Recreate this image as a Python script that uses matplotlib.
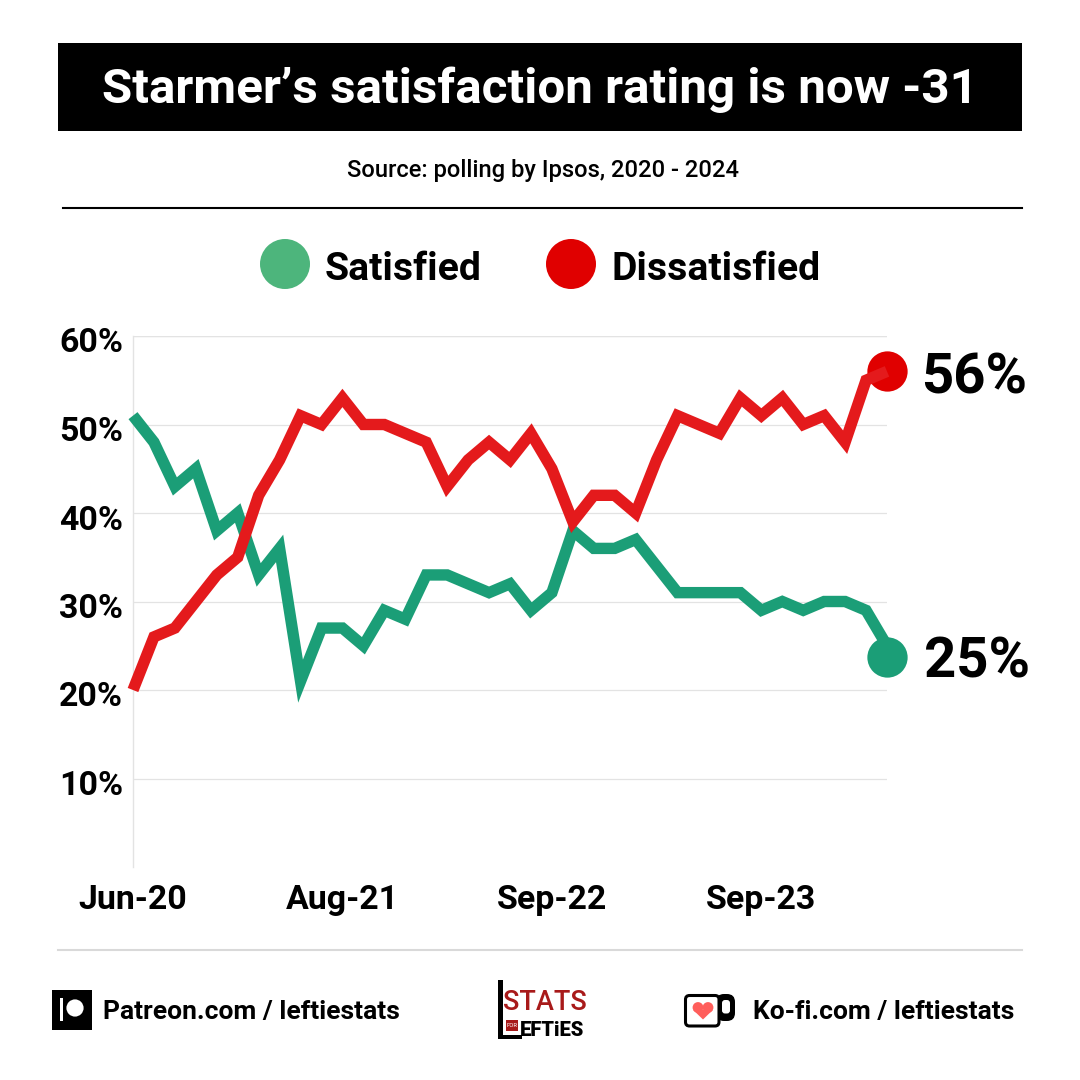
import matplotlib
matplotlib.use('Agg')
import matplotlib.pyplot as plt
from matplotlib.patches import Rectangle, Circle, FancyBboxPatch, Polygon
from matplotlib.transforms import ScaledTranslation

plt.rcParams['font.family'] = ['Roboto', 'DejaVu Sans']

# values, Ipsos polling
poll_index = list(range(37))
satisfied = [51, 48, 43, 45, 38, 40, 33, 36, 21, 27, 27, 25, 29, 28, 33, 33, 32, 31, 32,
             29, 31, 38, 36, 36, 37, 34, 31, 31, 31, 31, 29, 30, 29, 30, 30, 29, 25]
dissatisfied = [20, 26, 27, 30, 33, 35, 42, 46, 51, 50, 53, 50, 50, 49, 48, 43, 46, 48, 46,
                49, 45, 39, 42, 42, 40, 46, 51, 50, 49, 53, 51, 53, 50, 51, 48, 55, 56]
y_ticks = [10, 20, 30, 40, 50, 60]
y_labels = ['10%', '20%', '30%', '40%', '50%', '60%']
x_ticks = [0, 10, 20, 30]
x_labels = ['Jun-20', 'Aug-21', 'Sep-22', 'Sep-23']
end_sat_dot = 23.7
end_dis_dot = 56

GREEN = '#1b9e77'
RED = '#e41a1c'
DOT_RED = '#e00000'
LEGEND_GREEN = '#4db57c'
LOGO_RED = '#a81a1a'
GRID = '#e3e3e3'

fig = plt.figure(figsize=(10.8, 10.8), dpi=100, facecolor='white')

# page furniture in pixel coordinates
bg = fig.add_axes([0, 0, 1, 1])
bg.set_xlim(0, 1080)
bg.set_ylim(1080, 0)
bg.axis('off')

bg.add_patch(Rectangle((58, 43), 964, 88, color='black', lw=0))
bg.text(540, 90, 'Starmer\u2019s satisfaction rating is now -31', color='white',
        fontsize=35.6, fontweight='bold', ha='center', va='center')
bg.text(543, 171, 'Source: polling by Ipsos, 2020 - 2024', fontsize=17.1,
        fontweight='medium', ha='center', va='center')
bg.plot([63, 1022], [208, 208], color='black', lw=1.5)
bg.plot([58, 1022], [950, 950], color='#d9d9d9', lw=1.5)

# legend
bg.add_patch(Circle((285, 264), 25, color=LEGEND_GREEN, lw=0))
bg.text(325, 269, 'Satisfied', fontsize=28.2, fontweight='bold', va='center')
bg.add_patch(Circle((571, 264), 25, color=DOT_RED, lw=0))
bg.text(611, 269, 'Dissatisfied', fontsize=28.2, fontweight='bold', va='center')

# chart
ax = fig.add_axes([133 / 1080, 1 - 867 / 1080, 754 / 1080, 531 / 1080])
ax.patch.set_alpha(0)
ax.set_xlim(0, 36)
ax.set_ylim(0, 60)
for side in ['top', 'right', 'bottom']:
    ax.spines[side].set_visible(False)
ax.spines['left'].set_color(GRID)
ax.spines['left'].set_linewidth(1)
ax.set_yticks(y_ticks)
ax.set_yticklabels(y_labels, fontsize=24.4, fontweight='bold')
ax.set_xticks(x_ticks)
ax.set_xticklabels(x_labels, fontsize=24.4, fontweight='bold')
ax.tick_params(length=0)
ax.tick_params(axis='y', pad=7)
ax.tick_params(axis='x', pad=12)
ax.grid(axis='y', color=GRID, lw=0.9)
ax.set_axisbelow(True)
ax.axhline(60, color=GRID, lw=0.9, zorder=0.5)

offset = ScaledTranslation(0, -4 / 100, fig.dpi_scale_trans)
for lab in ax.get_yticklabels():
    lab.set_transform(lab.get_transform() + offset)

ax.plot(poll_index[-1], end_sat_dot, 'o', ms=29, color=GREEN, mew=0, clip_on=False, zorder=2)
ax.plot(poll_index[-1], end_dis_dot, 'o', ms=29, color=DOT_RED, mew=0, clip_on=False, zorder=2)
ax.plot(poll_index, satisfied, color=GREEN, lw=8.2, solid_joinstyle='miter',
        solid_capstyle='butt', clip_on=False, zorder=3)
ax.plot(poll_index, dissatisfied, color=RED, lw=8.2, solid_joinstyle='miter',
        solid_capstyle='butt', clip_on=False, zorder=4)

# end labels
bg.text(974, 378, '56%', fontsize=40.5, fontweight='bold', ha='center', va='center')
bg.text(977, 663, '25%', fontsize=40.5, fontweight='bold', ha='center', va='center')

# footer, patreon
bg.add_patch(Rectangle((52, 990), 40, 40, color='black', lw=0))
bg.add_patch(Rectangle((59.5, 998), 3.2, 23, color='white', lw=0))
bg.add_patch(Circle((75, 1008), 8.6, color='white', lw=0))
bg.text(103, 1012, 'Patreon.com / leftiestats', fontsize=19, fontweight='bold', va='center')

# footer, logo
bg.add_patch(Rectangle((498, 980), 5, 59, color='black', lw=0))
bg.add_patch(Rectangle((498, 1035), 24, 4, color='black', lw=0))
bg.add_patch(Rectangle((506, 1020), 12, 11, color=LOGO_RED, lw=0))
bg.text(544.5, 1003, 'STATS', fontsize=19.5, fontweight='medium', color=LOGO_RED,
        ha='center', va='center')
bg.text(512, 1025.5, 'FOR', fontsize=4.2, color='white', ha='center', va='center')
bg.text(552.5, 1030, 'EFTiES', fontsize=14.5, fontweight='black', ha='center', va='center')

# footer, ko-fi mug
bg.add_patch(FancyBboxPatch((716, 994), 19, 27, boxstyle='round,pad=0,rounding_size=8',
                            fc='black', ec='none'))
bg.add_patch(FancyBboxPatch((722, 1000), 8, 13.5, boxstyle='round,pad=0,rounding_size=3',
                            fc='white', ec='none'))
bg.add_patch(FancyBboxPatch((685.5, 995.5), 33.5, 30.5,
                            boxstyle='round,pad=0,rounding_size=4',
                            fc='white', ec='black', lw=2.2))
bg.add_patch(Circle((698, 1007.5), 5.4, color='#ff5e5b', lw=0))
bg.add_patch(Circle((708, 1007.5), 5.4, color='#ff5e5b', lw=0))
bg.add_patch(Polygon([[693.2, 1010], [712.8, 1010], [703, 1019.5]], color='#ff5e5b', lw=0))
bg.text(753, 1012, 'Ko-fi.com / leftiestats', fontsize=19, fontweight='bold', va='center')

fig.savefig('out.png', dpi=100)
